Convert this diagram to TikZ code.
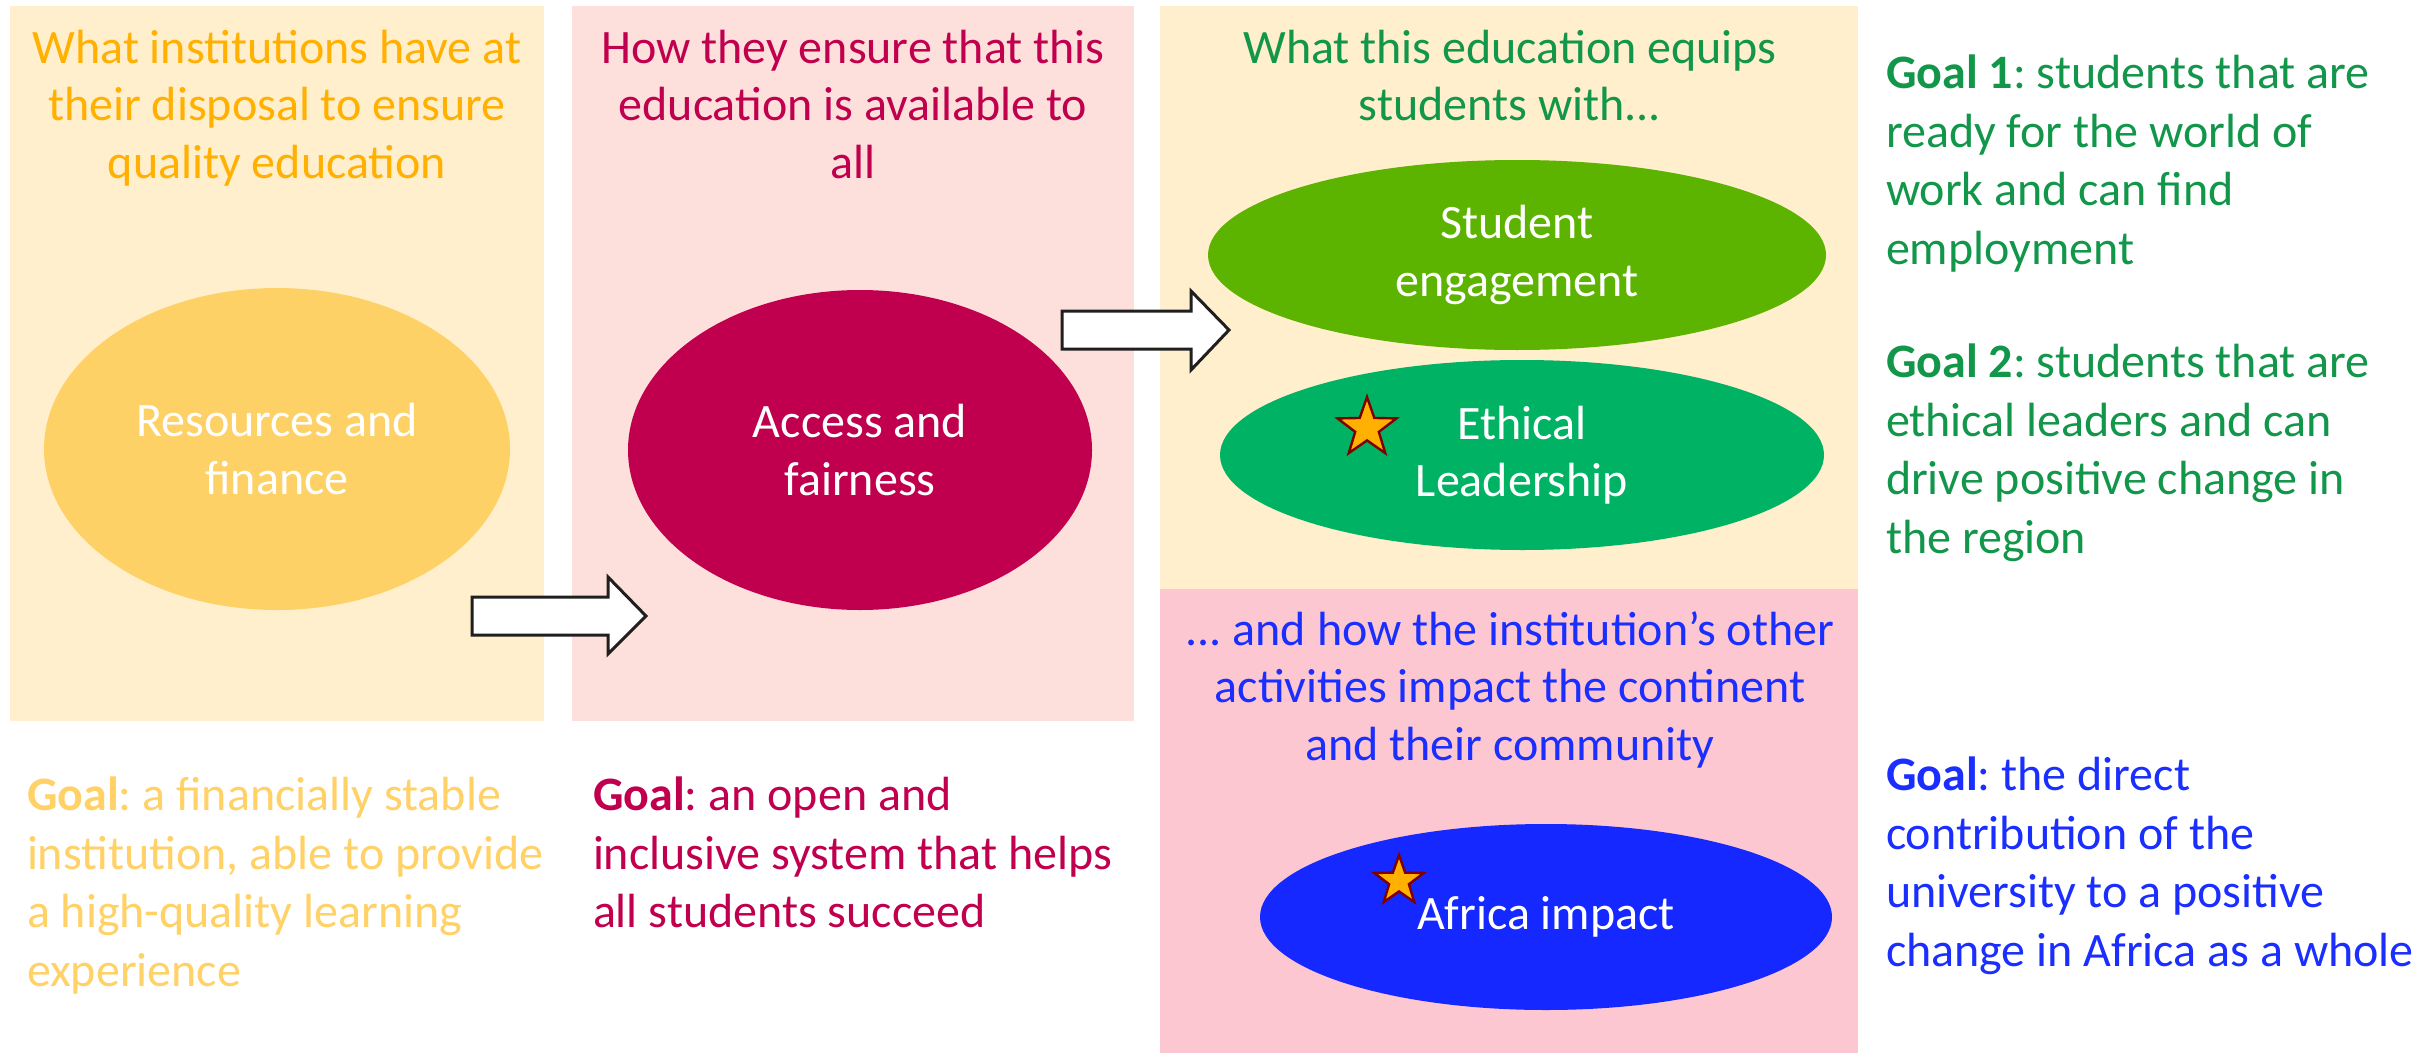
\documentclass[tikz,border=0pt]{standalone}
\usepackage{fontspec}
\setmainfont{Carlito}
\usetikzlibrary{shapes.geometric}
\frenchspacing
\definecolor{panelY}{HTML}{FFEFCC}
\definecolor{panelP}{HTML}{FDE0DB}
\definecolor{panelQ}{HTML}{FCC7D0}
\definecolor{ellY}{HTML}{FED166}
\definecolor{titleY}{HTML}{FFB000}
\definecolor{goalY}{HTML}{FFD166}
\definecolor{crimson}{HTML}{C0004E}
\definecolor{greenA}{HTML}{5CB300}
\definecolor{greenB}{HTML}{00B264}
\definecolor{greenT}{HTML}{12964A}
\definecolor{blueE}{HTML}{1428FF}
\definecolor{blueT}{HTML}{1A2EFF}
\definecolor{starfill}{HTML}{FFB000}
\definecolor{starline}{HTML}{7F0000}
\definecolor{arrowline}{HTML}{1F1F1F}
\begin{document}
\begin{tikzpicture}[x=0.5pt,y=-0.5pt,
  txt/.style={inner sep=0pt, outer sep=0pt, font=\fontsize{24}{28.75}\selectfont\frenchspacing},
  goaltxt/.style={txt, anchor=north west, align=left, font=\fontsize{24}{29.2}\selectfont\frenchspacing},
  ell/.style={txt, ellipse, text=white, align=center},
  starsh/.style={star, star points=5, star point ratio=2.5, fill=starfill, draw=starline, line width=1.2pt, inner sep=0pt},
  blockarrow/.style={fill=white, draw=arrowline, line width=1.5pt, line join=miter}]
\useasboundingbox (0,0) rectangle (2430,1054);
% panels
\fill[panelY] (10,6) rectangle (544,721);
\fill[panelP] (572,6) rectangle (1134,721);
\fill[panelY] (1160,6) rectangle (1858,589);
\fill[panelQ] (1160,589) rectangle (1858,1053);
% titles
\node[txt, anchor=north, align=center, text=titleY] (t1) at (277,23) {\strut What institutions have at\\their disposal to ensure\\quality education};
\node[txt, anchor=north, align=center, text=crimson] (t2) at (853,23) {\strut How they ensure that this\\education is available to\\all};
\node[txt, anchor=north, align=center, text=greenT] (t3) at (1510,23) {\strut What this education equips\\students with...};
\node[txt, anchor=north, align=center, text=blueT] (t4) at (1510,605) {\strut ... and how the institution{\char"27}s other\\activities impact the continent\\and their community};
% ellipses
\node[ell, fill=ellY, minimum width=233pt, minimum height=161pt] (rf) at (277,449) {Resources and\\finance};
\node[ell, fill=crimson, minimum width=232pt, minimum height=160pt] (af) at (860,450) {Access and\\fairness};
\node[ell, fill=greenA, minimum width=309pt, minimum height=95pt] (se) at (1517,255) {Student\\engagement};
\node[ell, fill=greenB, minimum width=302pt, minimum height=95pt] (el) at (1522,455) {Ethical\\Leadership};
\node[ell, fill=blueE, minimum width=286pt, minimum height=93pt] (ai) at (1546,917) {Africa impact};
% stars
\node[starsh, minimum size=31pt] (s1) at (1367,428) {};
\node[starsh, minimum size=26pt] (s2) at (1399,881) {};
% block arrows
\draw[blockarrow] (472,597) -- (608,597) -- (608,577) -- (646,616) -- (608,654) -- (608,635) -- (472,635) -- cycle;
\draw[blockarrow] (1062,311) -- (1191,311) -- (1191,291) -- (1229,330) -- (1191,370) -- (1191,349) -- (1062,349) -- cycle;
% goals
\node[goaltxt, text=goalY] (g1) at (27,770) {\strut\textbf{Goal}: a financially stable\\institution, able to provide\\a high-quality learning\\experience};
\node[goaltxt, text=crimson] (g2) at (593,770) {\strut\textbf{Goal}: an open and\\inclusive system that helps\\all students succeed};
\node[goaltxt, text=greenT] (g3) at (1886,48) {\strut\textbf{Goal 1}: students that are\\ready for the world of\\work and can find\\employment};
\node[goaltxt, text=greenT] (g4) at (1886,337) {\strut\textbf{Goal 2}: students that are\\ethical leaders and can\\drive positive change in\\the region};
\node[goaltxt, text=blueT] (g5) at (1886,750) {\strut\textbf{Goal}: the direct\\contribution of the\\university to a positive\\change in Africa as a whole};
\end{tikzpicture}
\end{document}
